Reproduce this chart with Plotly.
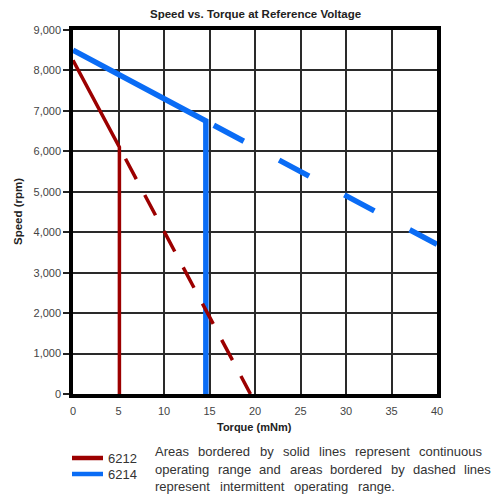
import plotly.graph_objects as go

# ---------------- data ----------------
torque_6212_cont = [0, 5.1, 5.1]
speed_6212_cont = [8250, 6100, 0]
torque_6212_int = [5.1, 19.5]
speed_6212_int = [6100, 0]

torque_6214_cont = [0, 14.6, 14.6]
speed_6214_cont = [8500, 6750, 0]
torque_6214_int = [14.6, 40]
speed_6214_int = [6750, 3700]

x_ticks = [0, 5, 10, 15, 20, 25, 30, 35, 40]
y_ticks = [0, 1000, 2000, 3000, 4000, 5000, 6000, 7000, 8000, 9000]

note_lines = [
    "Areas bordered by solid lines represent continuous",
    "operating range and areas bordered by dashed lines",
    "represent intermittent operating range.",
]

RED = "#9c0000"
BLUE = "#0a6cf5"
TXT = "#333333"

W, H = 495, 496
PL, PR, PT, PB = 73, 437, 30, 394  # plot area in window pixels
ML, MT = PL, PT
MR, MB = W - PR, H - PB
PW, PH = PR - PL, PB - PT


def px_x(px):
    return (px - PL) / PW


def px_y(py):
    return (PB - py) / PH


fig = go.Figure()
fig.add_trace(go.Scatter(x=torque_6214_cont, y=speed_6214_cont, mode="lines",
                         line=dict(color=BLUE, width=5.5), showlegend=False))
fig.add_trace(go.Scatter(x=torque_6214_int, y=speed_6214_int, mode="lines",
                         line=dict(color=BLUE, width=5.5, dash="0px,9px,34px,31px"),
                         showlegend=False))
fig.add_trace(go.Scatter(x=torque_6212_cont, y=speed_6212_cont, mode="lines",
                         line=dict(color=RED, width=3.5), showlegend=False))
fig.add_trace(go.Scatter(x=torque_6212_int, y=speed_6212_int, mode="lines",
                         line=dict(color=RED, width=3.5, dash="0px,13px,23px,5px"),
                         showlegend=False))

fig.update_xaxes(range=[0, 40], tickvals=x_ticks, showgrid=True, gridcolor="#2a2a2a",
                 gridwidth=1.5, zeroline=False, showline=True, linecolor="black",
                 linewidth=3.5, mirror=True, ticks="outside", ticklen=4,
                 tickcolor="rgba(0,0,0,0)",
                 tickfont=dict(family="Liberation Sans, Arial", size=11, color="#444"))
fig.update_yaxes(range=[0, 9000], tickvals=y_ticks, tickformat=",d", showgrid=True,
                 gridcolor="#2a2a2a", gridwidth=1.5, zeroline=False, showline=True,
                 linecolor="black", linewidth=3.5, mirror=True, ticks="outside",
                 ticklen=6, tickwidth=1.5, tickcolor="#222",
                 tickfont=dict(family="Liberation Sans, Arial", size=11, color="#444"))

ann = []
ann.append(dict(text="<b>Speed vs. Torque at Reference Voltage</b>", x=px_x(255), y=px_y(14),
                xref="paper", yref="paper", showarrow=False, xanchor="center", yanchor="middle",
                font=dict(family="Liberation Sans, Arial", size=11.5, color="#222")))
ann.append(dict(text="<b>Torque (mNm)</b>", x=px_x(254), y=px_y(427),
                xref="paper", yref="paper", showarrow=False, xanchor="center", yanchor="middle",
                font=dict(family="Liberation Sans, Arial", size=11, color="#222")))
ann.append(dict(text="<b>Speed (rpm)</b>", x=px_x(18), y=px_y(212), textangle=-90,
                xref="paper", yref="paper", showarrow=False, xanchor="center", yanchor="middle",
                font=dict(family="Liberation Sans, Arial", size=11.5, color="#222")))

# legend (manual)
shapes = []
for name, col, yy in [("6212", RED, 458), ("6214", BLUE, 474)]:
    shapes.append(dict(type="line", xref="paper", yref="paper", x0=px_x(72), x1=px_x(103),
                       y0=px_y(yy), y1=px_y(yy), line=dict(color=col, width=4.5)))
    ann.append(dict(text=name, x=px_x(106), y=px_y(yy), xref="paper", yref="paper",
                    showarrow=False, xanchor="left", yanchor="middle",
                    font=dict(family="Liberation Sans, Arial", size=13, color=TXT)))

# justified note text, placed word by word
AW = {'A': 667, 'a': 556, 'b': 556, 'c': 500, 'd': 556, 'e': 556, 'g': 556, 'h': 556,
      'i': 222, 'l': 222, 'm': 833, 'n': 556, 'o': 556, 'p': 556, 'r': 333, 's': 500,
      't': 278, 'u': 556, 'y': 500, '.': 278}
FS = 13


def wwidth(w):
    return sum(AW.get(c, 556) for c in w) * FS / 1000.0


left = 154
line_right = [481, 490, 394]
line_y = [452, 469, 486]
for line, right, yy in zip(note_lines, line_right, line_y):
    words = line.split()
    widths = [wwidth(w) for w in words]
    gap = (right - left - sum(widths)) / (len(words) - 1)
    xx = left
    for w, wd in zip(words, widths):
        ann.append(dict(text=w, x=px_x(xx - 1), y=px_y(yy), xref="paper", yref="paper",
                        showarrow=False, xanchor="left", yanchor="middle",
                        font=dict(family="Liberation Sans, Arial", size=FS, color=TXT)))
        xx += wd + gap

fig.update_layout(width=W, height=H, margin=dict(l=ML, r=MR, t=MT, b=MB),
                  paper_bgcolor="white", plot_bgcolor="white", showlegend=False,
                  annotations=ann, shapes=shapes)

fig.write_html("out.html", config={"displayModeBar": False},
               post_script="document.body.style.margin='0';document.body.style.overflow='hidden';")
